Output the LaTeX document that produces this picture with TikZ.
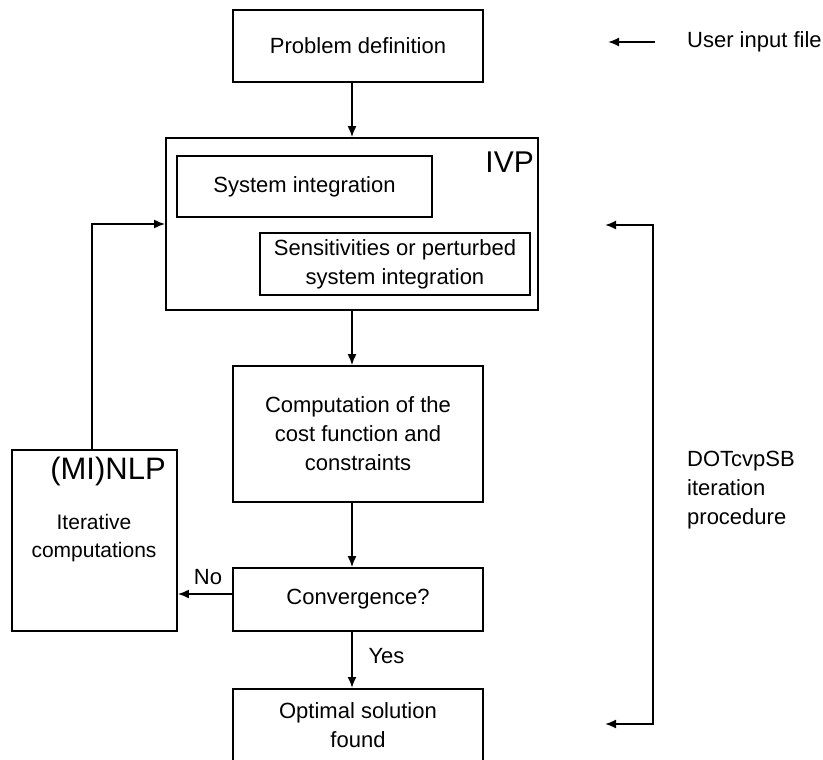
\documentclass[tikz,border=0pt]{standalone}
\usepackage{fontspec}
\setmainfont{Liberation Sans}
\usetikzlibrary{arrows.meta}
\begin{document}
\begin{tikzpicture}[x=1pt,y=-1pt,
  box/.style={draw,line width=1.8pt,align=center,inner sep=0pt,
    font=\fontsize{22}{29}\selectfont},
  txt/.style={align=center,inner sep=0pt,font=\fontsize{22}{29}\selectfont},
  big/.style={inner sep=0pt,font=\fontsize{30}{34}\selectfont},
  arr/.style={line width=1.8pt,-{Latex[length=11pt,width=9pt]}},
  darr/.style={line width=1.8pt,{Latex[length=11pt,width=9pt]}-{Latex[length=11pt,width=9pt]}}]
\useasboundingbox (0,0) rectangle (823,760);
\fill[white] (0,0) rectangle (823,760);
% boxes
\node (prob) [box,minimum width=250pt,minimum height=72pt] at (358,46) {Problem definition};
\node (ivp) [box,minimum width=372pt,minimum height=172pt] at (352,224) {};
\node (ivpl) [big,anchor=base east] at (534,172) {IVP};
\node (sys) [box,minimum width=255pt,minimum height=61pt] at (304.5,186.5) {System integration};
\node (sens) [box,minimum width=270pt,minimum height=62pt] at (395,264) {Sensitivities or perturbed\\system integration};
\node (comp) [box,minimum width=250pt,minimum height=136pt] at (358,434) {Computation of the\\cost function and\\constraints};
\node (conv) [box,minimum width=250pt,minimum height=63pt] at (358,599.5) {Convergence?};
\node (opt) [box,minimum width=250pt,minimum height=110pt,anchor=north] at (358,688) {};
\node (optl) [txt] at (358,725) {Optimal solution\\found};
\node (nlp) [box,minimum width=165pt,minimum height=181pt] at (94.5,540.5) {};
\node (nlpl) [big,font=\fontsize{31}{36}\selectfont] at (108,471) {(MI)NLP};
\node (nlpt) [txt,font=\fontsize{21}{28}\selectfont] at (94,538) {Iterative\\computations};
% side labels
\node (user) [txt,anchor=west] at (687,42) {User input file};
\node (dot) [txt,anchor=west,align=left] at (687,490) {DOTcvpSB\\iteration\\procedure};
\node (yes) [txt] at (386.5,656) {Yes};
\node (no) [txt] at (208,577) {No};
% coordinates
\coordinate (ua) at (655,42);
\coordinate (ub) at (608,42);
\coordinate (ta) at (605,225);
\coordinate (tb) at (653,225);
\coordinate (ba) at (653,724);
\coordinate (bb) at (605,724);
\coordinate (noy) at (0,594);
% connectors
\draw[arr] ([xshift=-6pt]prob.south) -- ([xshift=-6pt]prob.south |- ivp.north);
\draw[arr] (ivp.south) -- (ivp.south |- comp.north);
\draw[arr] ([xshift=-6pt]comp.south) -- ([xshift=-6pt]comp.south |- conv.north);
\draw[arr] ([xshift=-6pt]conv.south) -- ([xshift=-6pt]conv.south |- opt.north);
\draw[arr] (conv.west |- noy) -- (nlp.east |- noy);
\draw[arr] ([xshift=-2.5pt]nlp.north) |- (ivp.west);
\draw[arr] (ua) -- (ub);
\draw[darr] (ta) -- (tb) -- (ba) -- (bb);
\end{tikzpicture}
\end{document}
